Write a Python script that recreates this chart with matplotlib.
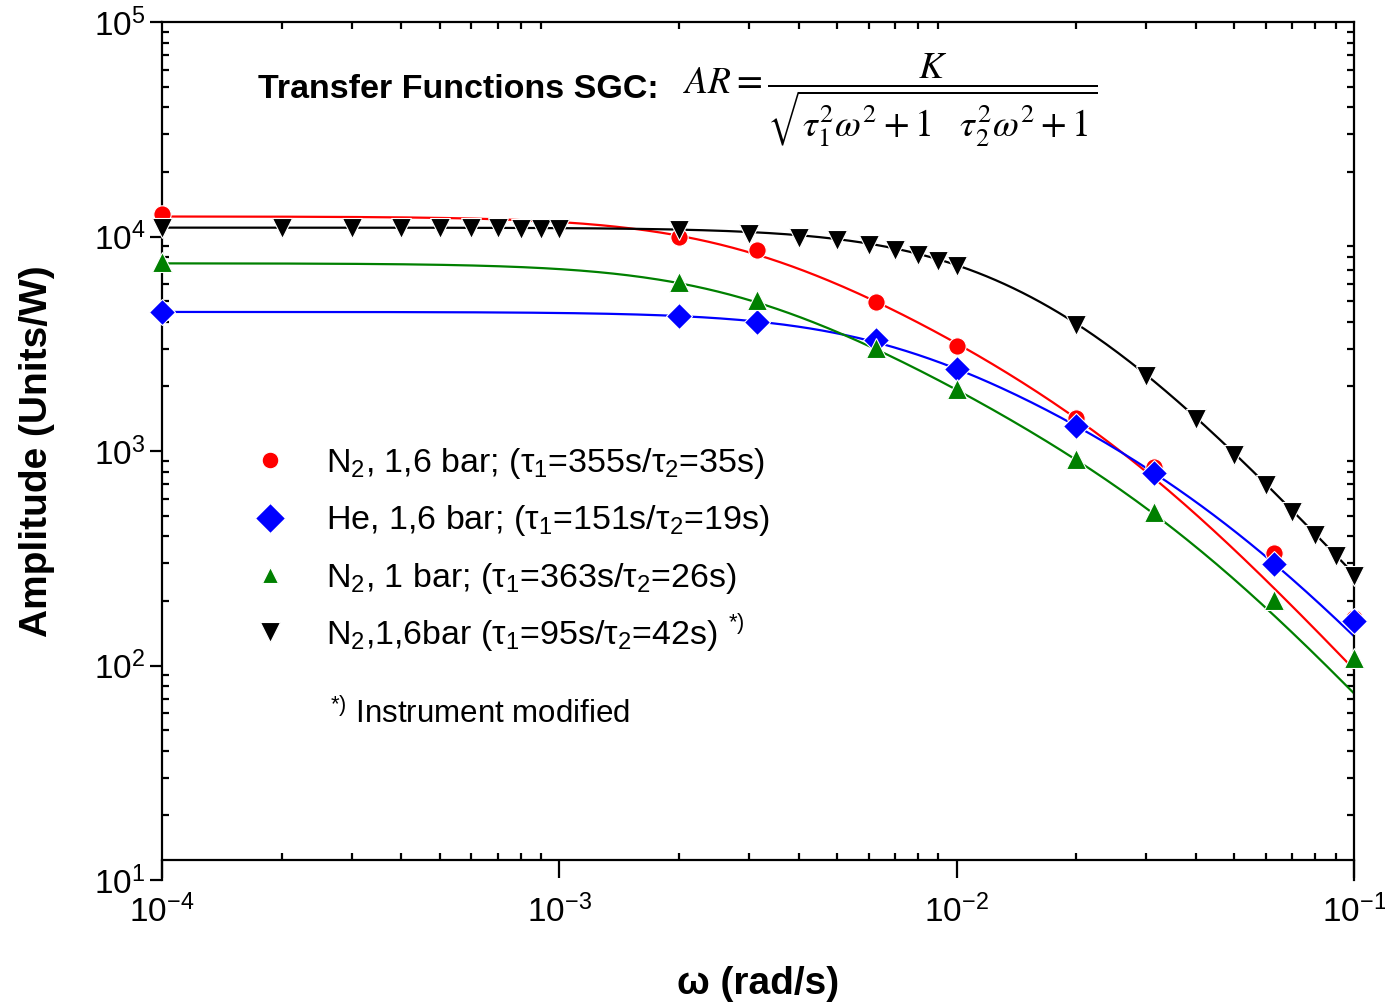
import matplotlib
matplotlib.use("Agg")
import matplotlib.pyplot as plt
from matplotlib.lines import Line2D
import numpy as np

plt.rcParams['font.family'] = ['Liberation Sans', 'DejaVu Sans']
plt.rcParams['axes.unicode_minus'] = False

# measured points (omega in rad/s, amplitude in units/W)
w_sgc = [1e-4, 2e-3, 3.14e-3, 6.28e-3, 1e-2, 2e-2, 3.14e-2, 6.28e-2, 1e-1]
amp_n2_16 = [12700, 10000, 8650, 4950, 3090, 1420, 840, 334, 166]
amp_he_16 = [4450, 4250, 3990, 3290, 2410, 1310, 790, 297, 161]
amp_n2_1 = [7600, 6140, 5060, 3020, 1945, 918, 520, 202, 108]

w_mod = [1e-4, 2e-4, 3e-4, 4e-4, 5e-4, 6e-4, 7e-4, 8e-4, 9e-4, 1e-3,
         2e-3, 3e-3, 4e-3, 5e-3, 6e-3, 7e-3, 8e-3, 9e-3, 1e-2,
         2e-2, 3e-2, 4e-2, 5e-2, 6e-2, 7e-2, 8e-2, 9e-2, 1e-1]
amp_mod = [10950, 10950, 10950, 10900, 10900, 10900, 10900, 10850, 10850, 10850,
           10700, 10270, 9840, 9600, 9130, 8650, 8200, 7690, 7280,
           3870, 2240, 1410, 957, 695, 520, 406, 324, 261]

# fit parameters of AR = K / sqrt((t1^2 w^2 + 1)(t2^2 w^2 + 1))
fit_K = [12400, 4450, 7500, 11000]
fit_tau1 = [355, 151, 363, 95]
fit_tau2 = [35, 19, 26, 42]

labels = ['N$_\\mathregular{2}$, 1,6 bar; (\u03c4$_\\mathregular{1}$=355s/\u03c4$_\\mathregular{2}$=35s)',
          'He, 1,6 bar; (\u03c4$_\\mathregular{1}$=151s/\u03c4$_\\mathregular{2}$=19s)',
          'N$_\\mathregular{2}$, 1 bar; (\u03c4$_\\mathregular{1}$=363s/\u03c4$_\\mathregular{2}$=26s)',
          'N$_\\mathregular{2}$,1,6bar (\u03c4$_\\mathregular{1}$=95s/\u03c4$_\\mathregular{2}$=42s)']
colors = ['#ff0000', '#0000ff', '#008000', '#000000']
markers = ['o', 'D', '^', 'v']
msizes = [12.5, 13, 14, 15]

fig = plt.figure(figsize=(13.85, 10.06), dpi=100)
ax = fig.add_axes([162/1385, 1-880/1006, (1354-162)/1385, (880-22)/1006])

w_fit = np.logspace(-4, -1, 400)
for K, t1, t2, c in zip(fit_K, fit_tau1, fit_tau2, colors):
    ar = K / np.sqrt((t1**2 * w_fit**2 + 1) * (t2**2 * w_fit**2 + 1))
    ax.plot(w_fit, ar, color=c, lw=1.6, zorder=2)

series = [(w_sgc, amp_n2_16), (w_sgc, amp_he_16), (w_sgc, amp_n2_1), (w_mod, amp_mod)]
for (xs, ys), c, m, s in zip(series, colors, markers, msizes):
    ax.plot(xs, ys, ls='none', marker=m, ms=s, color=c, mec='white', mew=0.8,
            zorder=3, clip_on=False)

ax.set_xscale('log')
ax.set_yscale('log')
ax.set_xlim(1e-4, 1e-1)
ax.set_ylim(10, 1e5)

for sp in ax.spines.values():
    sp.set_linewidth(1.6)
ax.spines['bottom'].set_position(('outward', -14.4))

ax.tick_params(which='major', direction='out', width=1.6, labelsize=24,
               top=False, right=False)
ax.tick_params(axis='y', which='major', length=9, pad=3)
ax.tick_params(axis='x', which='major', length=13, pad=12)
ax.tick_params(which='minor', direction='in', length=5, width=1.6,
               top=True, right=True)
ax.xaxis.set_minor_formatter(plt.NullFormatter())
ax.yaxis.set_minor_formatter(plt.NullFormatter())

ax.set_xlabel('\u03c9 (rad/s)', fontsize=28, fontweight='bold')
ax.xaxis.set_label_coords(0.5, -0.1)
ax.set_ylabel('Amplitude (Units/W)', fontsize=28, fontweight='bold')
ax.yaxis.set_label_coords(-0.09, 0.5)

handles = [Line2D([], [], ls='none', marker=m, ms=s, color=c, mec='white', mew=0.8)
           for c, m, s in zip(colors, markers, [12, 15, 11.5, 14.5])]
leg = ax.legend(handles, labels, loc='upper left', bbox_to_anchor=(253/1385, 1-446/1006),
                bbox_transform=fig.transFigure, frameon=False, fontsize=24.5,
                handlelength=1.0, handletextpad=1.15, labelspacing=0.66,
                borderpad=0, borderaxespad=0)

# footnote mark right after the last legend entry
fig.canvas.draw()
bb = leg.get_texts()[-1].get_window_extent()
fig.text((bb.x1 + 10) / 1385, (bb.y0 + bb.y1) / 2 / 1006 + 0.004,
         '$^\\mathregular{*)}$', fontsize=22.5, va='center')
fig.text(330/1385, 1-714/1006, '$^\\mathregular{*)}$ Instrument modified',
         fontsize=22.5, va='center')

fig.text(258/1385, 1-89/1006, 'Transfer Functions SGC:', fontsize=24.5,
         fontweight='bold', va='center')
fig.text(683/1385, 1-100/1006,
         r'$AR=\dfrac{K}{\sqrt{\tau_1^2\omega^2+1\quad\tau_2^2\omega^2+1}}$',
         fontsize=27, va='center', math_fontfamily='stix')

fig.savefig('out.png', dpi=100)
